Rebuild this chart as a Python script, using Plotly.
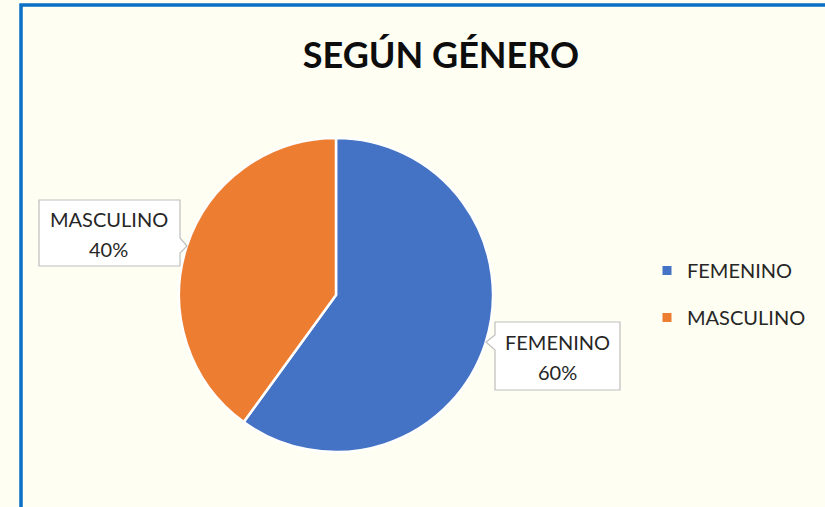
import plotly.graph_objects as go

W, H = 825, 507

title_text = "SEGÚN GÉNERO"
categories = ["FEMENINO", "MASCULINO"]
values = [60, 40]
colors = ["#4472C4", "#ED7D31"]

FONT = "Lato"

def px(x):
    return x / W

def py(y):
    return 1 - y / H

fig = go.Figure()

# pie placed at pixel box (179..493, 138..452)
fig.add_trace(go.Pie(
    labels=categories,
    values=values,
    sort=False,
    direction="clockwise",
    rotation=0,
    marker=dict(colors=colors, line=dict(color="white", width=2.5)),
    textinfo="none",
    hoverinfo="label+percent",
    showlegend=False,
    domain=dict(x=[px(179), px(493)], y=[py(452), py(138)]),
))

# legend entries
for i, (c, col) in enumerate(zip(categories, colors)):
    fig.add_trace(go.Scatter(
        x=[None], y=[None], mode="markers", name=c,
        marker=dict(symbol="square", size=9, color=col),
        legendgroup=c, showlegend=True,
    ))

def poly(points):
    d = "M " + " L ".join(f"{px(x)},{py(y)}" for x, y in points) + " Z"
    return d

shapes = []
# chart border (blue, left and top visible)
shapes.append(dict(type="rect", xref="paper", yref="paper",
                   x0=px(21), x1=px(W + 20), y0=py(H + 20), y1=py(5),
                   line=dict(color="#0A70C6", width=3.5), fillcolor="rgba(0,0,0,0)"))

# callouts
callouts = {
    "MASCULINO": [(39, 200), (180, 200), (180, 238), (187, 246), (180, 253), (180, 266), (39, 266)],
    "FEMENINO": [(495, 322), (620, 322), (620, 390), (495, 390), (495, 350), (486, 342), (495, 335)],
}
centers = {"MASCULINO": (109, 219, 249), "FEMENINO": (557, 342, 372)}
for name, pts in callouts.items():
    shapes.append(dict(type="path", xref="paper", yref="paper", path=poly(pts),
                       fillcolor="white", line=dict(color="#BFBFBF", width=1.2), layer="above"))

total = sum(values)
annotations = []
for c, v in zip(categories, values):
    cx, y1, y2 = centers[c]
    for txt, yy in ((c, y1), (f"{round(100 * v / total)}%", y2)):
        annotations.append(dict(
            x=px(cx), y=py(yy), xref="paper", yref="paper", showarrow=False,
            text=txt,
            font=dict(family=FONT, size=20, color="#262626"),
            align="center", xanchor="center", yanchor="middle",
        ))

fig.update_layout(
    width=W, height=H,
    margin=dict(l=0, r=0, t=0, b=0),
    paper_bgcolor="#FEFEF2",
    plot_bgcolor="#FEFEF2",
    title=dict(text=f"<b>{title_text}</b>", x=px(441), xanchor="center",
               y=py(55), yanchor="middle",
               font=dict(family=FONT, size=36, color="#0D0D0D")),
    xaxis=dict(visible=False),
    yaxis=dict(visible=False),
    legend=dict(x=px(647), y=py(294), xanchor="left", yanchor="middle",
                font=dict(family=FONT, size=20, color="#262626"),
                tracegroupgap=18, itemwidth=30, bgcolor="rgba(0,0,0,0)"),
    shapes=shapes,
    annotations=annotations,
)

fig.write_html("out.html")
